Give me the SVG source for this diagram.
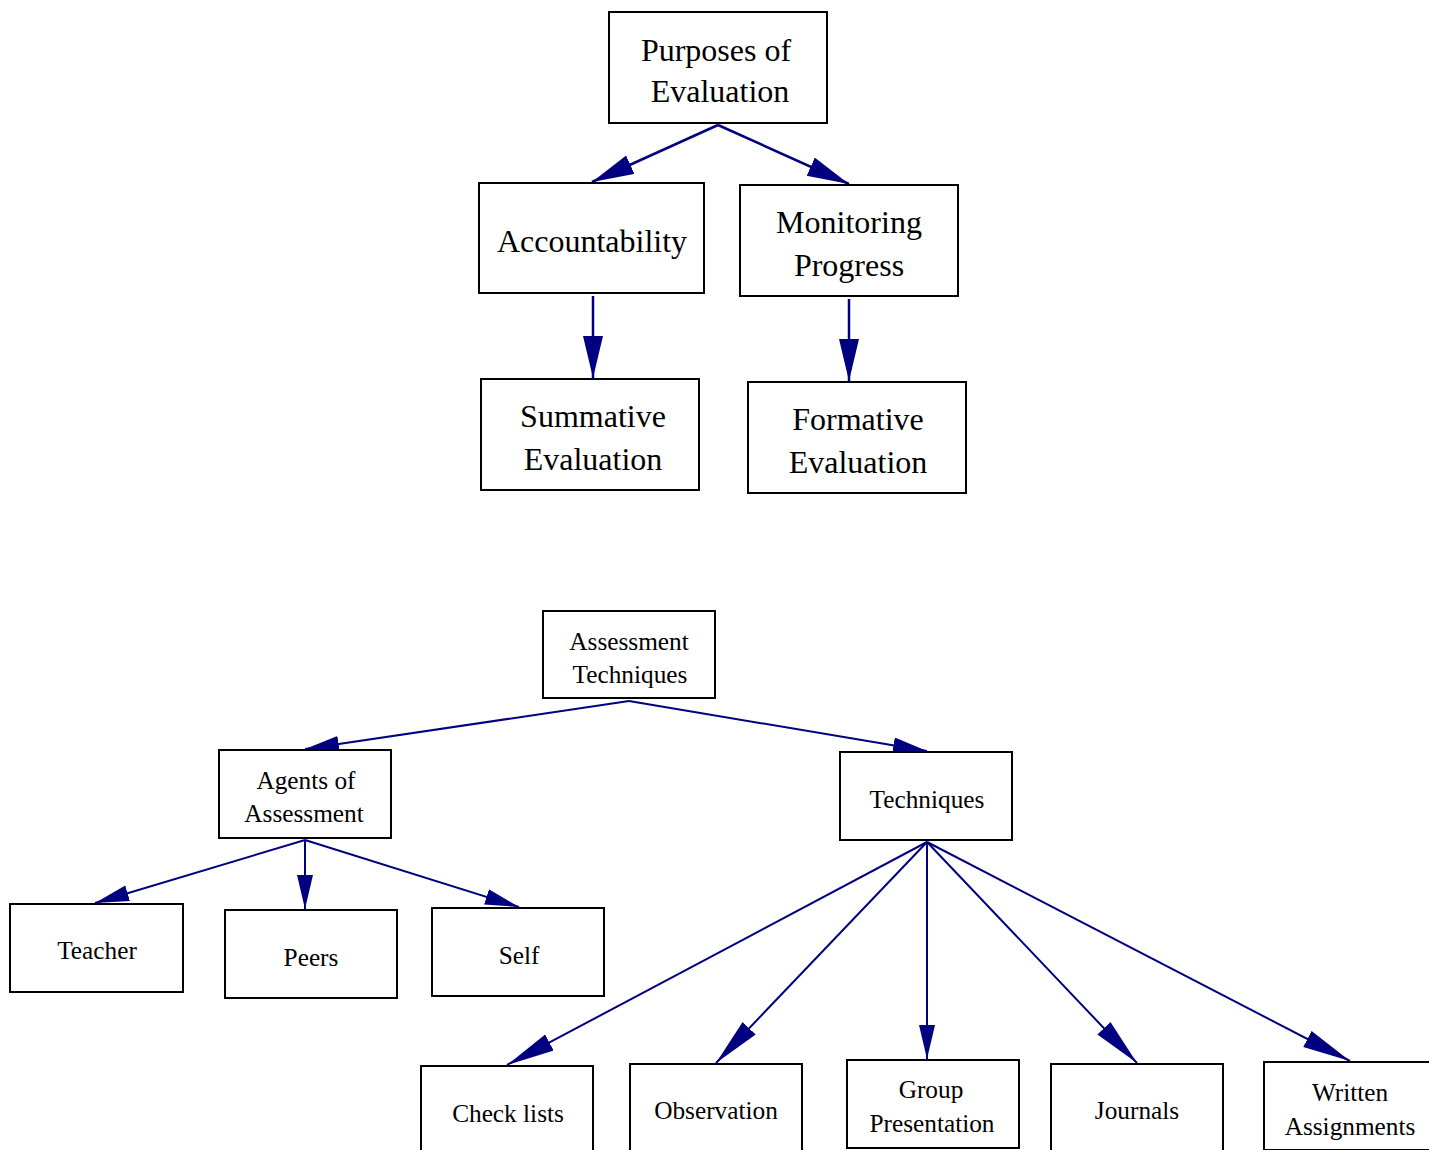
<svg xmlns="http://www.w3.org/2000/svg" width="1429" height="1150" viewBox="0 0 1429 1150">
<style>
.box{fill:#fff;stroke:#000;stroke-width:2}
.t1{font-family:"Liberation Serif","Times New Roman",serif;font-size:32px;text-anchor:middle;fill:#000}
.t2{font-family:"Liberation Serif","Times New Roman",serif;font-size:25.3px;text-anchor:middle;fill:#000}
.e1{stroke:#000080;stroke-width:2.5;fill:none}
.e2{stroke:#000080;stroke-width:2;fill:none}
</style>
<defs>
<marker id="ah1" markerUnits="userSpaceOnUse" markerWidth="44" markerHeight="22" refX="42" refY="10" orient="auto" viewBox="0 0 44 22">
<path d="M0,0 L42,10 L0,20 z" fill="#000080"/>
</marker>
<marker id="ah2" markerUnits="userSpaceOnUse" markerWidth="36" markerHeight="18" refX="34" refY="8" orient="auto" viewBox="0 0 36 18">
<path d="M0,0 L34,8 L0,16 z" fill="#000080"/>
</marker>
<marker id="ah3" markerUnits="userSpaceOnUse" markerWidth="50" markerHeight="20" refX="48" refY="9" orient="auto" viewBox="0 0 50 20">
<path d="M0,0 L48,9 L0,18 z" fill="#000080"/>
</marker>
</defs>
<rect width="1429" height="1150" fill="#fff"/>
<g id="connectors">
<line class="e1" x1="718" y1="125" x2="592" y2="182" marker-end="url(#ah1)"/>
<line class="e1" x1="718" y1="125" x2="849" y2="184" marker-end="url(#ah1)"/>
<line class="e1" x1="593" y1="296" x2="593" y2="378" marker-end="url(#ah1)"/>
<line class="e1" x1="849" y1="299" x2="849" y2="381" marker-end="url(#ah1)"/>
<line class="e2" x1="629" y1="701" x2="305" y2="749" marker-end="url(#ah2)"/>
<line class="e2" x1="629" y1="701" x2="927" y2="751" marker-end="url(#ah2)"/>
<line class="e2" x1="305" y1="840" x2="95" y2="903" marker-end="url(#ah2)"/>
<line class="e2" x1="305" y1="840" x2="305" y2="909" marker-end="url(#ah2)"/>
<line class="e2" x1="305" y1="840" x2="519" y2="907" marker-end="url(#ah2)"/>
<line class="e2" x1="927" y1="842" x2="507" y2="1065" marker-end="url(#ah3)"/>
<line class="e2" x1="927" y1="842" x2="716" y2="1063" marker-end="url(#ah3)"/>
<line class="e2" x1="927" y1="842" x2="927" y2="1059" marker-end="url(#ah2)"/>
<line class="e2" x1="927" y1="842" x2="1137" y2="1063" marker-end="url(#ah3)"/>
<line class="e2" x1="927" y1="842" x2="1350" y2="1061" marker-end="url(#ah3)"/>
</g>
<g id="purposes"><rect class="box" x="609" y="12" width="218" height="111"/><text class="t1" x="716" y="61">Purposes of</text><text class="t1" x="720" y="102">Evaluation</text></g>
<g id="accountability"><rect class="box" x="479" y="183" width="225" height="110"/><text class="t1" x="592" y="252">Accountability</text></g>
<g id="monitoring"><rect class="box" x="740" y="185" width="218" height="111"/><text class="t1" x="849" y="233">Monitoring</text><text class="t1" x="849" y="276">Progress</text></g>
<g id="summative"><rect class="box" x="481" y="379" width="218" height="111"/><text class="t1" x="593" y="427">Summative</text><text class="t1" x="593" y="470">Evaluation</text></g>
<g id="formative"><rect class="box" x="748" y="382" width="218" height="111"/><text class="t1" x="858" y="430">Formative</text><text class="t1" x="858" y="473">Evaluation</text></g>
<g id="assessment-techniques"><rect class="box" x="543" y="611" width="172" height="87"/><text class="t2" x="629" y="649.5">Assessment</text><text class="t2" x="630" y="682.5">Techniques</text></g>
<g id="agents"><rect class="box" x="219" y="750" width="172" height="88"/><text class="t2" x="306" y="788.5">Agents of</text><text class="t2" x="304" y="821.5">Assessment</text></g>
<g id="techniques"><rect class="box" x="840" y="752" width="172" height="88"/><text class="t2" x="927" y="807.5">Techniques</text></g>
<g id="teacher"><rect class="box" x="10" y="904" width="173" height="88"/><text class="t2" x="97" y="958.5">Teacher</text></g>
<g id="peers"><rect class="box" x="225" y="910" width="172" height="88"/><text class="t2" x="311" y="965.5">Peers</text></g>
<g id="self"><rect class="box" x="432" y="908" width="172" height="88"/><text class="t2" x="519" y="963.5">Self</text></g>
<g id="checklists"><rect class="box" x="421" y="1066" width="172" height="88"/><text class="t2" x="508" y="1121.5">Check lists</text></g>
<g id="observation"><rect class="box" x="630" y="1064" width="172" height="88"/><text class="t2" x="716" y="1118.5">Observation</text></g>
<g id="group"><rect class="box" x="847" y="1060" width="172" height="88"/><text class="t2" x="931" y="1097.5">Group</text><text class="t2" x="932" y="1131.5">Presentation</text></g>
<g id="journals"><rect class="box" x="1051" y="1064" width="172" height="88"/><text class="t2" x="1137" y="1118.5">Journals</text></g>
<g id="written"><rect class="box" x="1264" y="1062" width="172" height="88"/><text class="t2" x="1350" y="1100.5">Written</text><text class="t2" x="1350" y="1134.5">Assignments</text></g>
</svg>
